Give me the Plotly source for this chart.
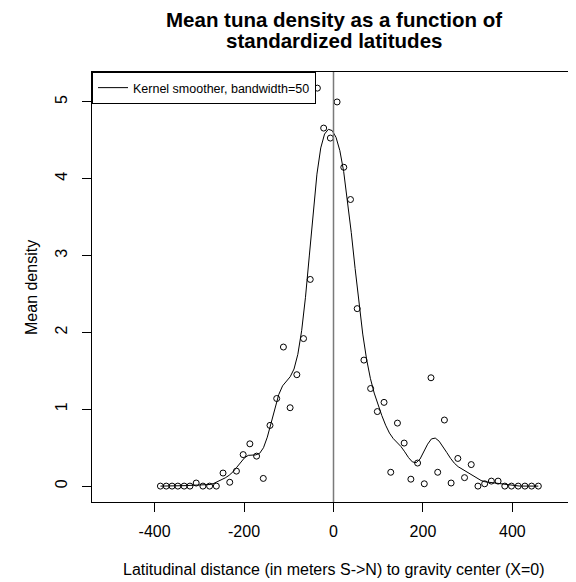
import numpy as np
import plotly.graph_objects as go

# Observed points (latitudinal distance, mean density)
lat_dist = [-387, -374, -361, -348, -334, -321, -307, -292, -277, -262,
            -247, -232, -217, -202, -187, -172, -157, -142, -127, -112,
            -97, -82, -67, -52, -36, -22, -7, 8, 23, 38,
            53, 68, 83, 98, 113, 128, 143, 158, 173, 188,
            203, 218, 233, 248, 263, 278, 293, 308, 323, 338,
            353, 368, 383, 398, 413, 428, 443, 458]
mean_density = [0, 0, 0, 0, 0, 0, 0.04, 0, 0, 0,
                0.17, 0.05, 0.195, 0.41, 0.55, 0.39, 0.10, 0.79, 1.14, 1.81,
                1.02, 1.45, 1.92, 2.69, 5.18, 4.66, 4.53, 5.00, 4.15, 3.73,
                2.31, 1.64, 1.27, 0.97, 1.09, 0.18, 0.82, 0.56, 0.09, 0.30,
                0.03, 1.41, 0.18, 0.86, 0.04, 0.36, 0.11, 0.28, 0.0, 0.03,
                0.065, 0.065, 0, 0, 0, 0, 0, 0]
bandwidth = 50
x_ticks = [-400, -200, 0, 200, 400]
y_ticks = [0, 1, 2, 3, 4, 5]

# Kernel smoother (R ksmooth, normal kernel)
xa = np.array(lat_dist, dtype=float)
ya = np.array(mean_density, dtype=float)
sd = 0.3706506 * bandwidth
grid = np.linspace(xa.min(), xa.max(), max(100, len(xa)))
w = np.exp(-0.5 * ((grid[:, None] - xa[None, :]) / sd) ** 2)
smooth = (w * ya[None, :]).sum(axis=1) / w.sum(axis=1)

fig = go.Figure()
fig.add_trace(go.Scatter(
    x=lat_dist, y=mean_density, mode="markers", showlegend=False,
    marker=dict(symbol="circle-open", size=6, color="black", line=dict(width=1, color="black")),
))
fig.add_trace(go.Scatter(
    x=grid, y=smooth, mode="lines", name="Kernel smoother, bandwidth=50",
    line=dict(color="black", width=1),
))

fig.add_shape(type="line", xref="x", yref="paper", x0=0, x1=0, y0=0, y1=1,
              line=dict(color="#7a7a7a", width=1.5))

font_family = "Liberation Sans, Arial, sans-serif"
fig.update_layout(
    width=568, height=574,
    margin=dict(l=84, r=1, t=64, b=80),
    paper_bgcolor="white", plot_bgcolor="white",
    font=dict(family=font_family, color="black", size=16),
    showlegend=True,
    legend=dict(x=0, y=1, xanchor="left", yanchor="top", bgcolor="white",
                bordercolor="black", borderwidth=1, font=dict(size=12.5),
                itemwidth=30),
    annotations=[
        dict(text="<b>Mean tuna density as a function of</b>",
             xref="paper", yref="paper", x=0.5, y=1.1222, xanchor="center", yanchor="middle",
             showarrow=False, font=dict(size=20.5)),
        dict(text="<b>standardized latitudes</b>",
             xref="paper", yref="paper", x=0.5, y=1.0744, xanchor="center", yanchor="middle",
             showarrow=False, font=dict(size=20.5)),
        dict(text="Latitudinal distance (in meters S->N) to gravity center (X=0)",
             xref="paper", yref="paper", x=0.5, y=-0.1565, xanchor="center", yanchor="middle",
             showarrow=False, font=dict(size=16)),
        dict(text="Mean density", textangle=-90,
             xref="paper", yref="paper", x=-0.1263, y=0.5, xanchor="center", yanchor="middle",
             showarrow=False, font=dict(size=16)),
    ],
)
fig.update_xaxes(range=[-540, 540], tickvals=x_ticks, ticktext=[str(v) for v in x_ticks],
                 showgrid=False, zeroline=False, showline=True, linecolor="black", linewidth=1,
                 mirror=True, ticks="outside", ticklen=9, tickcolor="black",
                 ticklabelstandoff=6)
fig.update_yaxes(range=[-0.207, 5.39], tickvals=y_ticks, ticktext=[str(v) for v in y_ticks],
                 showgrid=False, zeroline=False, showline=True, linecolor="black", linewidth=1,
                 mirror=True, ticks="outside", ticklen=9, tickcolor="black", tickangle=-90,
                 ticklabelstandoff=9)

fig.write_html("out.html")
